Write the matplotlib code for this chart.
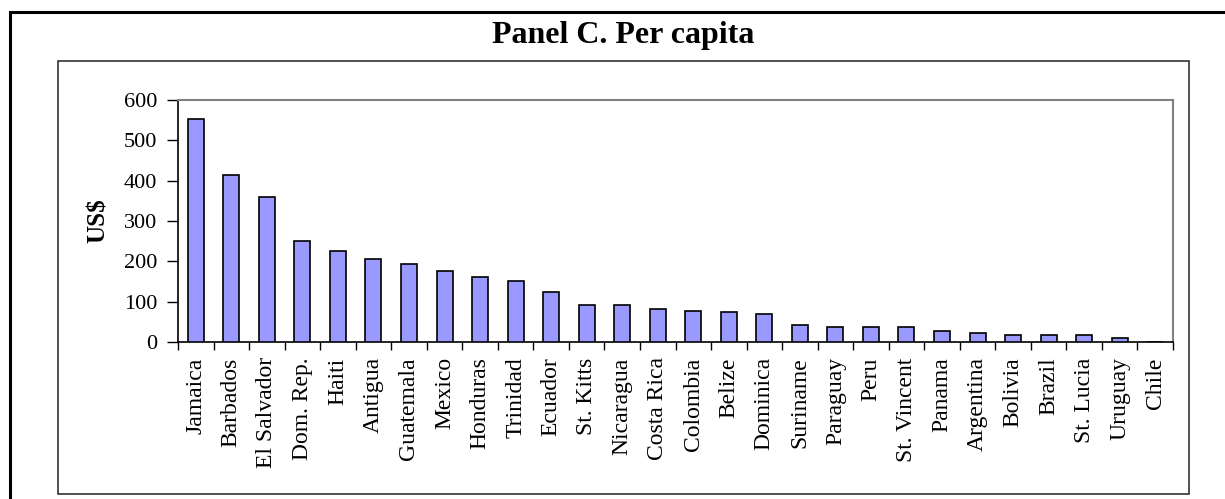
import matplotlib
matplotlib.use("Agg")
import matplotlib.pyplot as plt
from matplotlib.patches import Rectangle

countries = ["Jamaica", "Barbados", "El Salvador", "Dom. Rep.", "Haiti", "Antigua",
             "Guatemala", "Mexico", "Honduras", "Trinidad", "Ecuador", "St. Kitts",
             "Nicaragua", "Costa Rica", "Colombia", "Belize", "Dominica", "Suriname",
             "Paraguay", "Peru", "St. Vincent", "Panama", "Argentina", "Bolivia",
             "Brazil", "St. Lucia", "Uruguay", "Chile"]
per_capita = [553, 415, 360, 250, 226, 207, 194, 175, 161, 152, 125, 92,
              92, 83, 78, 74, 69, 41, 37, 37, 37, 28, 22, 17, 17, 17, 9, 0]
yticks = [0, 100, 200, 300, 400, 500, 600]

W, H = 1225, 499
fig = plt.figure(figsize=(W / 100, H / 100), dpi=100)
serif = ["Liberation Serif", "DejaVu Serif"]

# outer frame (extends beyond image on right/bottom)
fig.patches.append(Rectangle((10 / W, -0.1), 1.2, 1 - 12 / H + 0.1, transform=fig.transFigure,
                             fill=False, edgecolor="black", linewidth=2.2))
# inner chart frame
fig.patches.append(Rectangle((58 / W, 1 - 494 / H), (1189 - 58) / W, (494 - 61) / H,
                             transform=fig.transFigure, fill=False, edgecolor="#222222",
                             linewidth=1.1))

left, right, top, bottom = 178, 1173, 100, 342
ax = fig.add_axes([left / W, 1 - bottom / H, (right - left) / W, (bottom - top) / H])

x = list(range(len(countries)))
ax.bar(x, per_capita, width=0.45, color="#9999FF", edgecolor="black", linewidth=1.2, zorder=3)

ax.set_xlim(-0.5, len(countries) - 0.5)
ax.set_ylim(0, 600)
ax.set_yticks(yticks)
ax.set_yticklabels([str(v) for v in yticks], fontfamily=serif, fontsize=16)
ax.set_xticks(x)
ax.set_xticklabels(countries, rotation=90, fontfamily=serif, fontsize=17)
ax.tick_params(axis="x", which="major", length=0, pad=11)
ax.set_xticks([i - 0.5 for i in range(len(countries) + 1)], minor=True)
ax.tick_params(axis="x", which="minor", length=6, width=1, direction="out", color="black")
ax.tick_params(axis="y", length=8, width=1, direction="out", pad=7, color="black")

for s in ["left", "bottom"]:
    ax.spines[s].set_color("black")
    ax.spines[s].set_linewidth(1.2)
for s in ["top", "right"]:
    ax.spines[s].set_color("#808080")
    ax.spines[s].set_linewidth(1.5)

ax.set_ylabel("US$", fontfamily=serif, fontsize=18, fontweight="bold", labelpad=10)

fig.text(623.5 / W, 1 - 35 / H, "Panel C. Per capita", ha="center", va="center",
         fontfamily=serif, fontsize=23, fontweight="bold")

fig.savefig("out.png", dpi=100)
